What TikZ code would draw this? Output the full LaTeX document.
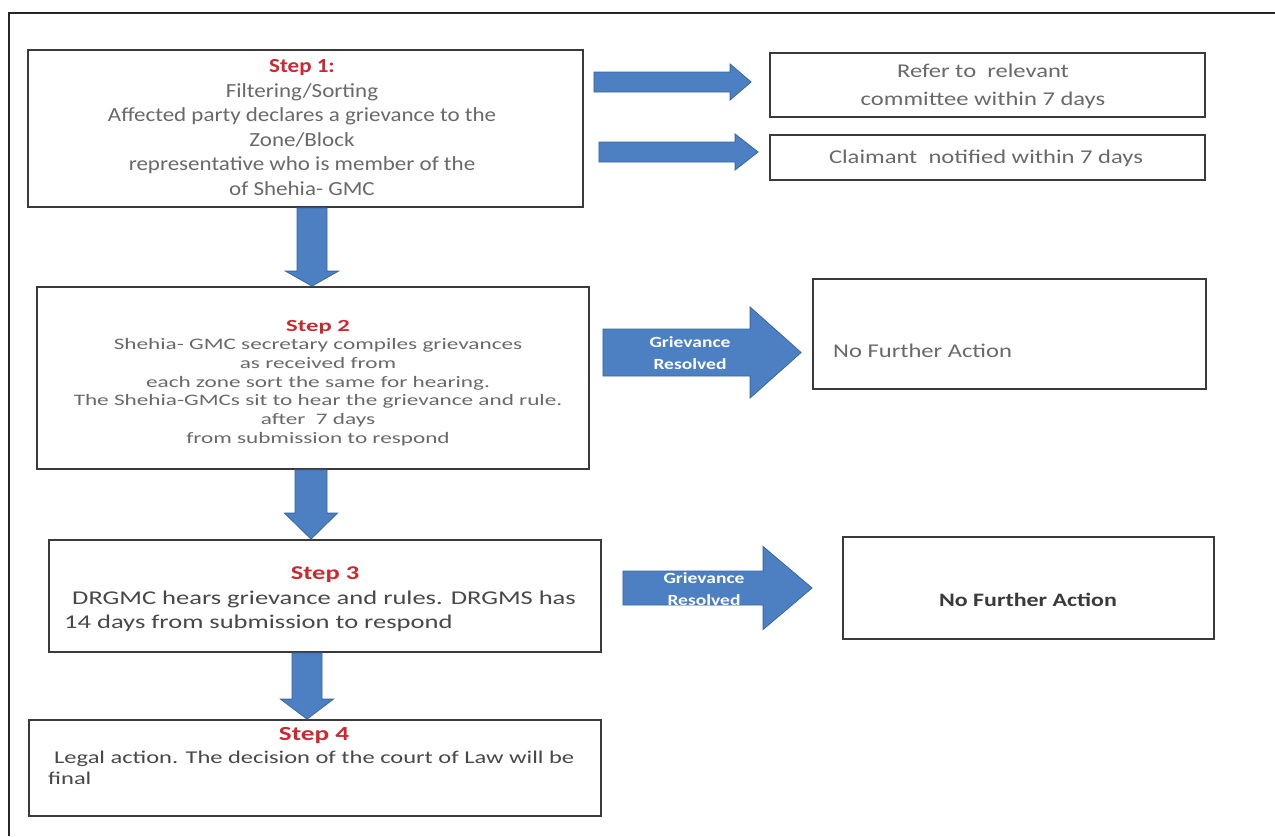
\documentclass[tikz,border=0pt]{standalone}
\usepackage{fontspec}
\setmainfont{Carlito}
\newfontfamily\fa[FakeStretch=1.15]{Carlito}
\newfontfamily\fb[FakeStretch=1.45]{Carlito}
\newfontfamily\fc[FakeStretch=1.36]{Carlito}
\newfontfamily\fd[FakeStretch=1.26]{Carlito}
\usetikzlibrary{calc}

\definecolor{stepred}{RGB}{205,40,48}
\definecolor{bodygray}{RGB}{105,105,105}
\definecolor{deepgray}{RGB}{72,72,72}
\definecolor{edgegray}{RGB}{58,58,58}
\definecolor{arrowblue}{RGB}{76,128,194}
\definecolor{arrowedge}{RGB}{58,102,160}

% block arrow pointing right: start, tip, shaft half, head half, head length
\newcommand\blockright[5]{%
  \filldraw[blk] let \p1=#1, \p2=#2 in
    (\x1,\y1+#3) -- (\x2-#5,\y1+#3) -- (\x2-#5,\y1+#4) -- (\x2,\y1)
    -- (\x2-#5,\y1-#4) -- (\x2-#5,\y1-#3) -- (\x1,\y1-#3) -- cycle;}
% block arrow pointing down: start, tip, shaft half, head half, head length
\newcommand\blockdown[5]{%
  \filldraw[blk] let \p1=#1, \p2=#2 in
    (\x1-#3,\y1) -- (\x1-#3,\y2+#5) -- (\x1-#4,\y2+#5) -- (\x1,\y2)
    -- (\x1+#4,\y2+#5) -- (\x1+#3,\y2+#5) -- (\x1+#3,\y1) -- cycle;}

\begin{document}
\begin{tikzpicture}[x=1pt,y=-1pt,
  box/.style={draw=edgegray, line width=1.8pt, fill=white, inner sep=0pt},
  blk/.style={fill=arrowblue, draw=arrowedge, line width=0.8pt},
  txt/.style={inner sep=0pt, text=bodygray},
  head/.style={text=stepred, font=\bfseries},
  tag/.style={inner sep=0pt, text=white, align=center,
    font=\fd\bfseries\fontsize{15.5}{22.5}\selectfont}]

\useasboundingbox (0,0) rectangle (1275,836);
\fill[white] (0,0) rectangle (1275,836);

% outer frame (top and left edges)
\draw[line width=2.4pt, black!85] (1275,13) -- (9,13) -- (9,836);

% boxes
\node[box, minimum width=555, minimum height=157] (b1) at (305.5,128.5) {};
\node[box, minimum width=435, minimum height=64]  (r1) at (987.5,85) {};
\node[box, minimum width=435, minimum height=45]  (r2) at (987.5,157.5) {};
\node[box, minimum width=552, minimum height=182] (b2) at (313,378) {};
\node[box, minimum width=393, minimum height=110] (nf1) at (1009.5,334) {};
\node[box, minimum width=552, minimum height=112] (b3) at (325,596) {};
\node[box, minimum width=371, minimum height=102] (nf2) at (1028.5,588) {};
\node[box, minimum width=572, minimum height=96]  (b4) at (315,768) {};

% step 1
\node[txt, align=center, font=\fa\fontsize{20}{24.5}\selectfont] (t1) at (302,127.5)
  {{\color{stepred}\bfseries Step 1:}\\
   Filtering/Sorting\\
   Affected party declares a grievance to the\\
   Zone/Block\\
   representative who is member of the\\
   of Shehia- GMC};

% outcomes of step 1
\node[txt, align=center, font=\fd\fontsize{19.5}{27.6}\selectfont] (t1a) at (983,86)
  {Refer to\ \ relevant\\ committee within 7 days};
\node[txt, font=\fd\fontsize{19.5}{24}\selectfont] (t1b) at (986,158)
  {Claimant\ \ notified within 7 days};

% step 2
\node[txt, align=center, font=\fb\fontsize{16}{18.7}\selectfont] (t2) at (318,383)
  {{\color{stepred}\bfseries\fontsize{17}{18.7}\selectfont Step 2}\\
   Shehia- GMC secretary compiles grievances\\
   as received from\\
   each zone sort the same for hearing.\\
   The Shehia-GMCs sit to hear the grievance and rule.\\
   after\ \ 7 days\\
   from submission to respond};
\node[txt, anchor=west, font=\fd\fontsize{19.5}{24}\selectfont] (n1) at (833,351)
  {No Further Action};

% step 3
\node[txt, head, font=\fc\bfseries\fontsize{19.5}{23.6}\selectfont] (h3) at (325,575) {Step 3};
\node[txt, anchor=west, align=left, text=deepgray, font=\fc\fontsize{19.5}{23.6}\selectfont] (t3) at (64,611)
  {\hspace*{8pt}DRGMC hears grievance and rules. DRGMS has\\
   14 days from submission to respond};
\node[txt, text=deepgray!80!black, font=\fd\bfseries\fontsize{19}{24}\selectfont] (n2) at (1028,600)
  {No Further Action};

% step 4
\node[txt, head, font=\fc\bfseries\fontsize{20}{23}\selectfont] (h4) at (314,736) {Step 4};
\node[txt, anchor=west, align=left, text=deepgray, font=\fc\fontsize{18}{21.5}\selectfont] (t4) at (48,768)
  {\hspace*{6pt}Legal action. The decision of the court of Law will be\\
   final};

% flow downwards
\blockdown{(b1.south -| 312,0)}{(b2.north -| 312,0)}{15pt}{26.5pt}{15pt}
\blockdown{(b2.south -| 311,0)}{(b3.north -| 311,0)}{16pt}{26.5pt}{26pt}
\blockdown{(b3.south -| 307,0)}{(b4.north -| 307,0)}{15pt}{26.5pt}{20pt}

% branches to the right
\blockright{($(b1.east |- 0,82)+(10,0)$)}{($(r1.west |- 0,82)+(-18,0)$)}{10pt}{18pt}{21pt}
\blockright{($(b1.east |- 0,152)+(15,0)$)}{($(r2.west |- 0,152)+(-11,0)$)}{10pt}{18pt}{23pt}
\blockright{($(b2.east |- 0,352.5)+(13,0)$)}{($(nf1.west |- 0,352.5)+(-11,0)$)}{23.5pt}{45.5pt}{51pt}
\blockright{($(b3.east |- 0,588)+(21,0)$)}{($(nf2.west |- 0,588)+(-30,0)$)}{17pt}{41.5pt}{49pt}

% arrow captions
\node[tag] (g1) at (690,353) {Grievance\\ Resolved};
\node[tag] (g2) at (704,589) {Grievance\\ Resolved};

\end{tikzpicture}
\end{document}
